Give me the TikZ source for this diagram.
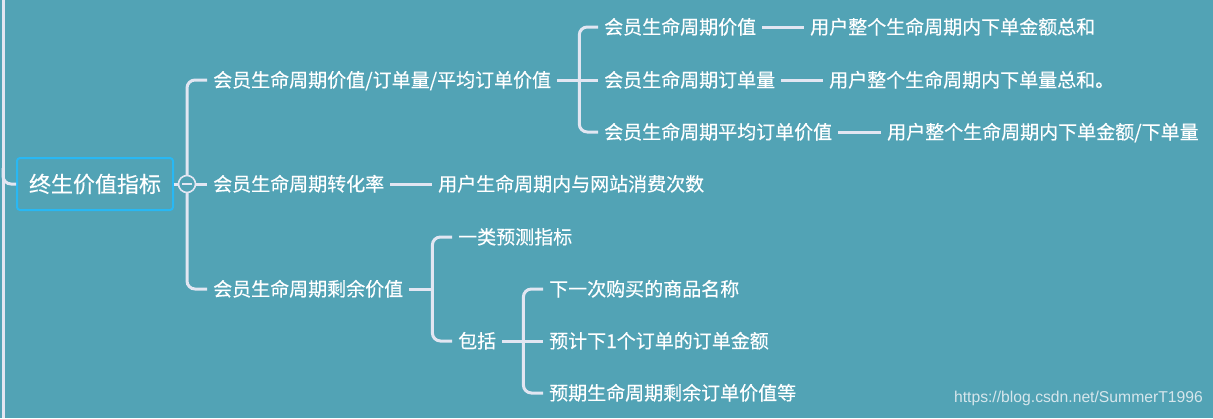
\documentclass[tikz,border=0pt]{standalone}
\usepackage{fontspec}
\usetikzlibrary{positioning,calc}
\newfontfamily\cjk[FakeBold=0.3]{Noto Sans CJK SC}
\setsansfont{Liberation Sans}
\definecolor{mapbg}{RGB}{82,163,181}
\definecolor{branchline}{RGB}{226,230,242}
\definecolor{rootblue}{RGB}{40,184,244}
\definecolor{markgray}{RGB}{214,230,236}

\begin{document}
\begin{tikzpicture}[x=1pt, y=-1pt,
    topic/.style={anchor=west, text=white, inner sep=0pt, inner xsep=6pt,
        text height=15.5pt, text depth=1.5pt, font=\cjk\fontsize{19}{19}\selectfont},
    rootbox/.style={draw=rootblue, line width=2pt, rounded corners=3pt, fill=mapbg,
        minimum width=156pt, minimum height=52pt, inner sep=0pt, text=white,
        font=\cjk\fontsize{22}{22}\selectfont},
    branch/.style={draw=branchline, line width=3pt, rounded corners=8pt},
    stub/.style={draw=branchline, line width=3pt},
    fold/.style={circle, draw=branchline, line width=1.6pt, fill=mapbg,
        minimum size=17pt, inner sep=0pt}]
    % Canvas
    \useasboundingbox (0,0) rectangle (1213,418);
    \fill[mapbg] (0,0) rectangle (1213,418);

    % Trunk on the left edge
    \draw[stub] (3,0) -- (3,418);
    \coordinate (trunk) at (3,168);

    % Root
    \node[rootbox] (root) at (95,184) {终生价值指标};
    \draw[branch] (trunk) |- (root.west);
    \coordinate (hub) at (187,184);

    % Level 1
    \node[topic] (clv)  at (207,80)  {会员生命周期价值/订单量/平均订单价值};
    \node[topic] (conv) at (207,184) {会员生命周期转化率};
    \node[topic] (convn) at (432,184) {用户生命周期内与网站消费次数};
    \node[topic] (rest) at (207,289) {会员生命周期剩余价值};

    \draw[stub] (root.east) -- (hub);
    \draw[branch] (hub) |- (clv.west);
    \draw[stub] (hub) -- (conv.west);
    \draw[branch] (hub) |- (rest.west);
    \draw[stub] (conv.east) -- (convn.west);

    % Fold marker
    \node[fold] (fold) at (hub) {};
    \draw[branchline, line width=1.4pt] ($(fold.center)+(-5,0)$) -- ($(fold.center)+(5,0)$);

    % Value / orders / average order value
    \node[topic] (val)  at (598,27)  {会员生命周期价值};
    \node[topic] (valn) at (804,27)  {用户整个生命周期内下单金额总和};
    \node[topic] (ord)  at (598,80)  {会员生命周期订单量};
    \node[topic] (ordn) at (823,80)  {用户整个生命周期内下单量总和。};
    \node[topic] (avg)  at (598,132) {会员生命周期平均订单价值};
    \node[topic] (avgn) at (881,132) {用户整个生命周期内下单金额/下单量};

    \coordinate (clvbar) at ($(clv.east)+(22,0)$);
    \draw[stub] (clv.east) -- (clvbar);
    \draw[branch] (clvbar) |- (val.west);
    \draw[stub] (clvbar) -- (ord.west);
    \draw[branch] (clvbar) |- (avg.west);
    \draw[stub] (val.east) -- (valn.west);
    \draw[stub] (ord.east) -- (ordn.west);
    \draw[stub] (avg.east) -- (avgn.west);

    % Remaining value
    \node[topic] (pred) at (452,237) {一类预测指标};
    \node[topic] (incl) at (452,341) {包括};
    \node[topic] (next) at (543,289) {下一次购买的商品名称};
    \node[topic] (amt)  at (543,341) {预计下1个订单的订单金额};
    \node[topic] (left) at (543,393) {预期生命周期剩余订单价值等};

    \coordinate (restbar) at ($(rest.east)+(23,0)$);
    \draw[stub] (rest.east) -- (restbar);
    \draw[branch] (restbar) |- (pred.west);
    \draw[branch] (restbar) |- (incl.west);

    \coordinate (inclbar) at ($(incl.east)+(21,0)$);
    \draw[stub] (incl.east) -- (inclbar);
    \draw[branch] (inclbar) |- (next.west);
    \draw[stub] (inclbar) -- (amt.west);
    \draw[branch] (inclbar) |- (left.west);

    % Watermark
    \node[anchor=east, inner sep=0pt, text=markgray, font=\sffamily\fontsize{15.7}{15.7}\selectfont]
        (mark) at (1203,398) {https://blog.csdn.net/SummerT1996};
\end{tikzpicture}
\end{document}
